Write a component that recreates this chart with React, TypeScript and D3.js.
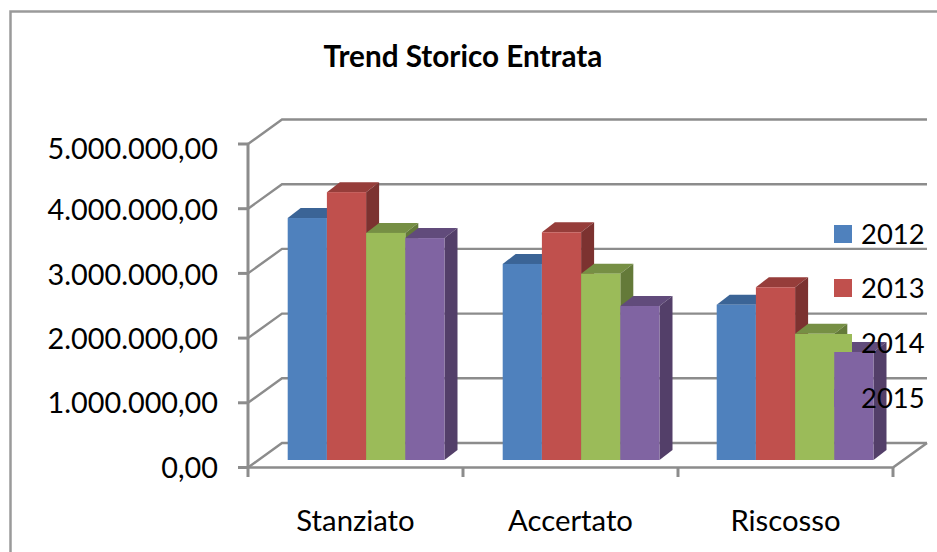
import React from "react";
import * as d3 from "d3";

const categories = ["Stanziato", "Accertato", "Riscosso"];
const seriesNames = ["2012", "2013", "2014", "2015"];
const v2012 = [3740000, 3030000, 2400000];
const v2013 = [4140000, 3520000, 2670000];
const v2014 = [3510000, 2880000, 1950000];
const v2015 = [3430000, 2380000, 1670000];
const seriesValues = [v2012, v2013, v2014, v2015];
const ticks = [0, 1000000, 2000000, 3000000, 4000000, 5000000];
const tickLabels = ["0,00", "1.000.000,00", "2.000.000,00", "3.000.000,00", "4.000.000,00", "5.000.000,00"];
const front = ["#4F81BD", "#C0504D", "#9BBB59", "#8064A2"];
const topC = ["#3B6496", "#963D3A", "#768F44", "#614B7B"];
const sideC = ["#33557F", "#7C3230", "#647A39", "#533F69"];
const legendY = [234, 288, 343, 398];
const labelNudge = [10.5, 10.2, 11.2, 12, 11.2, 15];

const GRID = "#8C8C8C";
const FONT = "Lato, Carlito, sans-serif";

export default function App() {
  const y = d3.scaleLinear().domain([0, 5000000]).range([467.5, 144]);
  const x = d3.scaleBand<string>().domain(categories).range([248, 893]);
  const dx = 34, dy = -24.5;
  const barBaseShift = -7.5;
  const barW = 39.2, barOff = 40, bdx = 13, bdy = -10;
  return (
    <svg width={937} height={552} style={{ position: "fixed", left: 0, top: 0, background: "#fff", display: "block" }}>
      <rect x={0} y={0} width={937} height={552} fill="#fff" />
      <path d="M10.5,552V11.5H937" fill="none" stroke="#9A9A9A" strokeWidth={2.5} />
      {ticks.map((t) => (
        <g key={t}>
          <path d={`M${x.range()[0]},${y(t)}l${dx},${dy}H927`} fill="none" stroke={GRID} strokeWidth={2.4} />
          <line x1={238} x2={248} y1={y(t)} y2={y(t)} stroke={GRID} strokeWidth={3} />
        </g>
      ))}
      <line x1={248} x2={248} y1={y(5000000)} y2={477} stroke={GRID} strokeWidth={3} />
      <path d={`M248,${y(0)}H893l34,-24.5`} fill="none" stroke={GRID} strokeWidth={2.6} />
      {[...categories.map((c) => x(c)!), 893].map((tx, i) =>
        i === 0 ? null : <line key={i} x1={tx} x2={tx} y1={y(0)} y2={477} stroke={GRID} strokeWidth={3} />
      )}
      {categories.map((c, ci) =>
        seriesValues.map((vals, si) => {
          const bx = x(c)! + barOff - (ci === 2 ? 1 : 0) + si * barW - 0.3;
          const top = y(vals[ci]) + barBaseShift;
          const base = y(0) + barBaseShift;
          return (
            <g key={c + si}>
              <path d={`M${bx},${top}l${bdx},${bdy}h${barW}l${-bdx},${-bdy}z`} fill={topC[si]} />
              <path d={`M${bx + barW},${top}l${bdx},${bdy}V${base + bdy}l${-bdx},${-bdy}z`} fill={sideC[si]} />
              <rect x={bx} y={top} width={barW} height={base - top} fill={front[si]} />
            </g>
          );
        })
      )}
      {tickLabels.map((l, i) => (
        <text key={l} x={218} y={y(ticks[i]) + labelNudge[i]} textAnchor="end" fontFamily={FONT} fontSize={28.8} fill="#000">
          {l}
        </text>
      ))}
      {categories.map((c) => (
        <text key={c} x={x(c)! + x.bandwidth() / 2} y={531} textAnchor="middle" fontFamily={FONT} fontSize={29.3} fill="#000">
          {c}
        </text>
      ))}
      <text x={463} y={66.5} textAnchor="middle" fontFamily={FONT} fontWeight={700} fontSize={29.7} fill="#000">
        Trend Storico Entrata
      </text>
      {seriesNames.map((s, i) => (
        <g key={s}>
          <rect x={834} y={legendY[i] - 9} width={18} height={18} fill={front[i]} />
          <text x={861} y={legendY[i] + 10} fontFamily={FONT} fontSize={27.4} fill="#000">
            {s}
          </text>
        </g>
      ))}
    </svg>
  );
}
